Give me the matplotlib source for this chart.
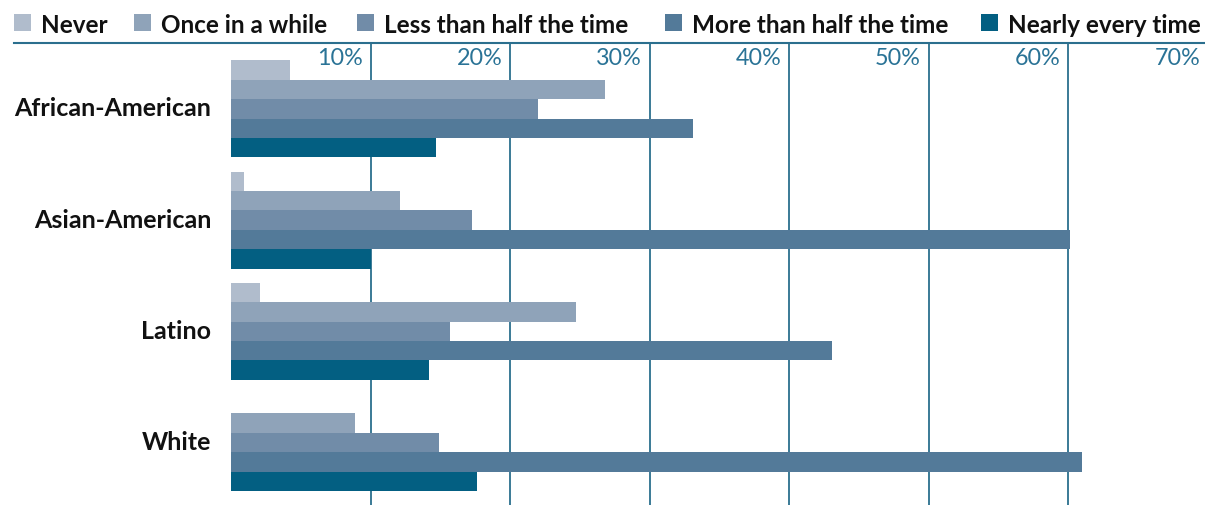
import matplotlib.pyplot as plt
from matplotlib.patches import Rectangle
from matplotlib.lines import Line2D

plt.rcParams['font.family'] = ['Lato', 'DejaVu Sans']

# Data
groups = ["African-American", "Asian-American", "Latino", "White"]
series = ["Never", "Once in a while", "Less than half the time",
          "More than half the time", "Nearly every time"]
never = [4.2, 0.9, 2.1, 0.0]
once = [26.8, 12.1, 24.7, 8.9]
less_half = [22.0, 17.3, 15.7, 14.9]
more_half = [33.1, 60.1, 43.1, 61.0]
nearly = [14.7, 10.0, 14.2, 17.6]
ticks = [10, 20, 30, 40, 50, 60, 70]
values = [never, once, less_half, more_half, nearly]

colors = ["#b0bccc", "#8fa3b9", "#718ca8", "#537a99", "#035f82"]
grid_col = "#2b6f8e"
tick_col = "#2a7396"

W, H = 1205, 505
fig = plt.figure(figsize=(W / 100, H / 100), dpi=100)
ax_top = 43
ax = fig.add_axes((231 / W, 0, 1 - 231 / W, (H - ax_top) / H))

# layout in pixel units inside the axes
bar_h = 19.4
pitch = 111.2
first = 17.3
for j, vals in enumerate(values):
    ys = [first + i * pitch + (j + 0.5) * bar_h for i in range(len(groups))]
    ax.barh(ys, vals, height=bar_h, color=colors[j], zorder=3, linewidth=0)

ax.set_xlim(0, 69.8)
ax.set_ylim(H - ax_top, 0)

for t in ticks:
    ax.axvline(t, color=grid_col, lw=1.3, zorder=1)
    ax.text(t - 0.55, 5, f"{t}%", ha="right", va="top", color=tick_col,
            fontsize=16.8)

centers = [first + i * pitch + 2.5 * bar_h for i in range(len(groups))]
for g, c in zip(groups, centers):
    ax.text(-1.4, c, g, ha="right", va="center", fontsize=18,
            fontweight="bold", color="#111111")

ax.set_xticks([])
ax.set_yticks([])
for s in ax.spines.values():
    s.set_visible(False)

# top rule under the legend
fig.add_artist(Line2D([14 / W, 1.0], [1 - ax_top / H] * 2, color=grid_col,
                      lw=1.5, transform=fig.transFigure))

# legend drawn by hand
leg_x = [14, 134, 357, 665, 981]
for x, c, name in zip(leg_x, colors, series):
    fig.add_artist(Rectangle((x / W, 1 - 31 / H), 17 / W, 17 / H,
                             facecolor=c, edgecolor="none",
                             transform=fig.transFigure))
    fig.text((x + 27) / W, 1 - 32.5 / H, name, ha="left", va="baseline",
             fontsize=17.5, fontweight="bold", color="#111111")

fig.savefig("out.png", dpi=100)
